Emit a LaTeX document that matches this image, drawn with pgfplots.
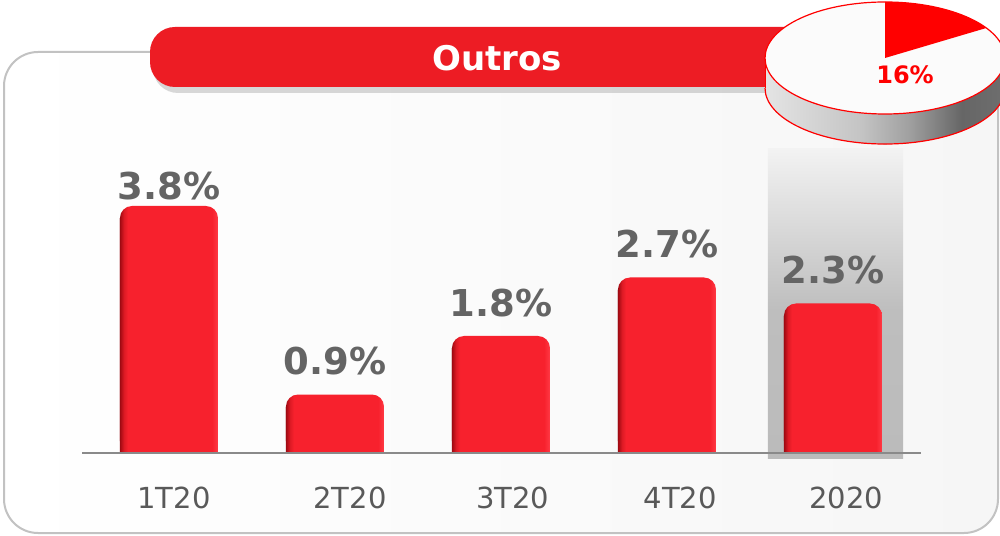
\documentclass[border=0pt]{standalone}
\usepackage{pgfplots}
\pgfplotsset{compat=1.18}
\usepackage{pgfplotstable}
\usepackage{fontspec}
\setmainfont{DejaVu Sans}
\usetikzlibrary{shadows}

\definecolor{barred}{HTML}{F7212D}
\definecolor{bardark}{HTML}{A00A12}
\definecolor{barmid}{HTML}{DC1A24}
\definecolor{barlight}{HTML}{FF3A45}
\definecolor{titlered}{HTML}{ED1C24}
\definecolor{valgray}{HTML}{646464}
\definecolor{tickgray}{HTML}{595959}
\definecolor{axisgray}{HTML}{8A8A8A}
\definecolor{panelborder}{HTML}{C2C2C2}
\definecolor{panelR}{HTML}{F6F6F6}
\definecolor{pieface}{HTML}{FBFBFB}
\definecolor{colA}{HTML}{BBBBBB}
\definecolor{colB}{HTML}{BEBEBE}
\definecolor{colC}{HTML}{D0D0D0}
\definecolor{colD}{HTML}{F3F3F3}
\definecolor{sideA}{HTML}{E4E4E4}
\definecolor{sideB}{HTML}{C4C4C4}
\definecolor{sideC}{HTML}{A0A0A0}
\definecolor{sideD}{HTML}{666666}
\definecolor{sideE}{HTML}{6E6E6E}

\pgfdeclarehorizontalshading{barshade}{100bp}{color(0bp)=(bardark); color(25bp)=(bardark); color(27bp)=(barmid); color(29bp)=(barred); color(72bp)=(barred); color(75bp)=(barlight); color(100bp)=(barlight)}
\pgfdeclareverticalshading{colshade}{100bp}{color(0bp)=(colA); color(25bp)=(colA); color(49bp)=(colB); color(58bp)=(colC); color(75bp)=(colD); color(100bp)=(colD)}
\pgfdeclarehorizontalshading{pieside}{100bp}{color(0bp)=(sideA); color(25bp)=(sideA); color(45bp)=(sideB); color(55bp)=(sideC); color(66bp)=(sideD); color(75bp)=(sideE); color(100bp)=(sideE)}

\pgfplotstableread{
x y
0 3.8
1 0.9
2 1.8
3 2.7
4 2.3
}\datatable
\def\pieval{16}

\begin{document}
\begin{tikzpicture}
\fill[white] (0pt,0pt) rectangle (500pt,267.5pt);
% panel
\draw[panelborder, line width=1pt, rounded corners=17pt, left color=white, right color=panelR] (2pt,1pt) rectangle (499pt,241.5pt);
% title bar
\fill[titlered, rounded corners=12.5pt, drop shadow={opacity=0.3, shadow xshift=1.5pt, shadow yshift=-3pt}] (75pt,224pt) rectangle (415pt,254pt);
\node[text=white, font=\bfseries\fontsize{17}{20}\selectfont] at (248.5pt,238.5pt) {Outros};

\begin{axis}[
  at={(41pt,37.75pt)}, anchor=south west,
  x=83pt, y=32.5pt,
  xmin=-0.524, xmax=4.53, ymin=-0.1, ymax=4.7,
  ybar, bar width=49pt,
  axis x line=middle, axis y line=none,
  axis line style={-, axisgray, line width=1pt},
  xtick={0.03,1.09,2.07,3.08,4.08},
  xticklabels={1T20,2T20,3T20,4T20,2020},
  ytick=\empty,
  major tick length=0pt,
  xticklabel style={anchor=base, yshift=-27.5pt, inner sep=0pt, text=tickgray, font=\fontsize{14.5}{16}\selectfont},
  axis on top,
  clip mode=individual,
]
\fill[shade, shading=colshade] (axis cs:3.608,-0.092) rectangle (axis cs:4.422,4.69);
\pgfplotsinvokeforeach{0,1,2,3,4}{%
\addplot[ybar, bar shift=0pt, draw=none, shade, shading=barshade,
  x filter/.expression={abs(x-#1)<0.1 ? x : nan},
  y filter/.expression={y-0.2}, forget plot] table[x=x,y=y]{\datatable};
\addplot[ybar, bar shift=0pt, draw=none, shade, shading=barshade, rounded corners=6pt,
  x filter/.expression={abs(x-#1)<0.1 ? x : nan},
  visualization depends on={y \as \rawy},
  nodes near coords={\pgfmathprintnumber[fixed,fixed zerofill,precision=1,assume math mode=true]{\pgfplotspointmeta}\%},
  every node near coord/.append style={anchor=south, inner sep=0pt, yshift={(\rawy>3.5 ? 3 : 9.5)*1pt}, text=valgray, font=\bfseries\fontsize{18.5}{20}\selectfont, rounded corners=0pt},
] table[x=x,y=y]{\datatable};
}
\end{axis}

\pgfmathsetmacro{\pieend}{90-3.6*\pieval}
\begin{axis}[at={(382.5pt,193.7pt)}, anchor=south west, x=60pt, y=28pt, xmin=-1, xmax=1, ymin=-1.6, ymax=1, hide axis, clip=false]
\fill[shade, shading=pieside] (axis cs:-1,0) -- (axis cs:-1,-0.536) arc[start angle=180, end angle=360, x radius=60pt, y radius=28pt] -- (axis cs:1,0) arc[start angle=0, end angle=-180, x radius=60pt, y radius=28pt] -- cycle;
\draw[red, line width=0.6pt] (axis cs:-1,-0.536) arc[start angle=180, end angle=360, x radius=60pt, y radius=28pt];
\draw[red, line width=0.4pt] (axis cs:-1,0) -- (axis cs:-1,-0.536);
\filldraw[fill=pieface, draw=red, line width=0.6pt] (axis cs:0,0) ellipse [x radius=60pt, y radius=28pt];
\fill[red] (axis cs:0,0) -- (axis cs:0,1) arc[start angle=90, end angle=\pieend, x radius=60pt, y radius=28pt] -- cycle;
\node[text=red, font=\bfseries\fontsize{12}{14}\selectfont] at (axis cs:0.167,-0.30) {16\%};
\end{axis}

\pgfresetboundingbox
\path[use as bounding box] (0pt,0pt) rectangle (500pt,267.5pt);
\end{tikzpicture}
\end{document}
